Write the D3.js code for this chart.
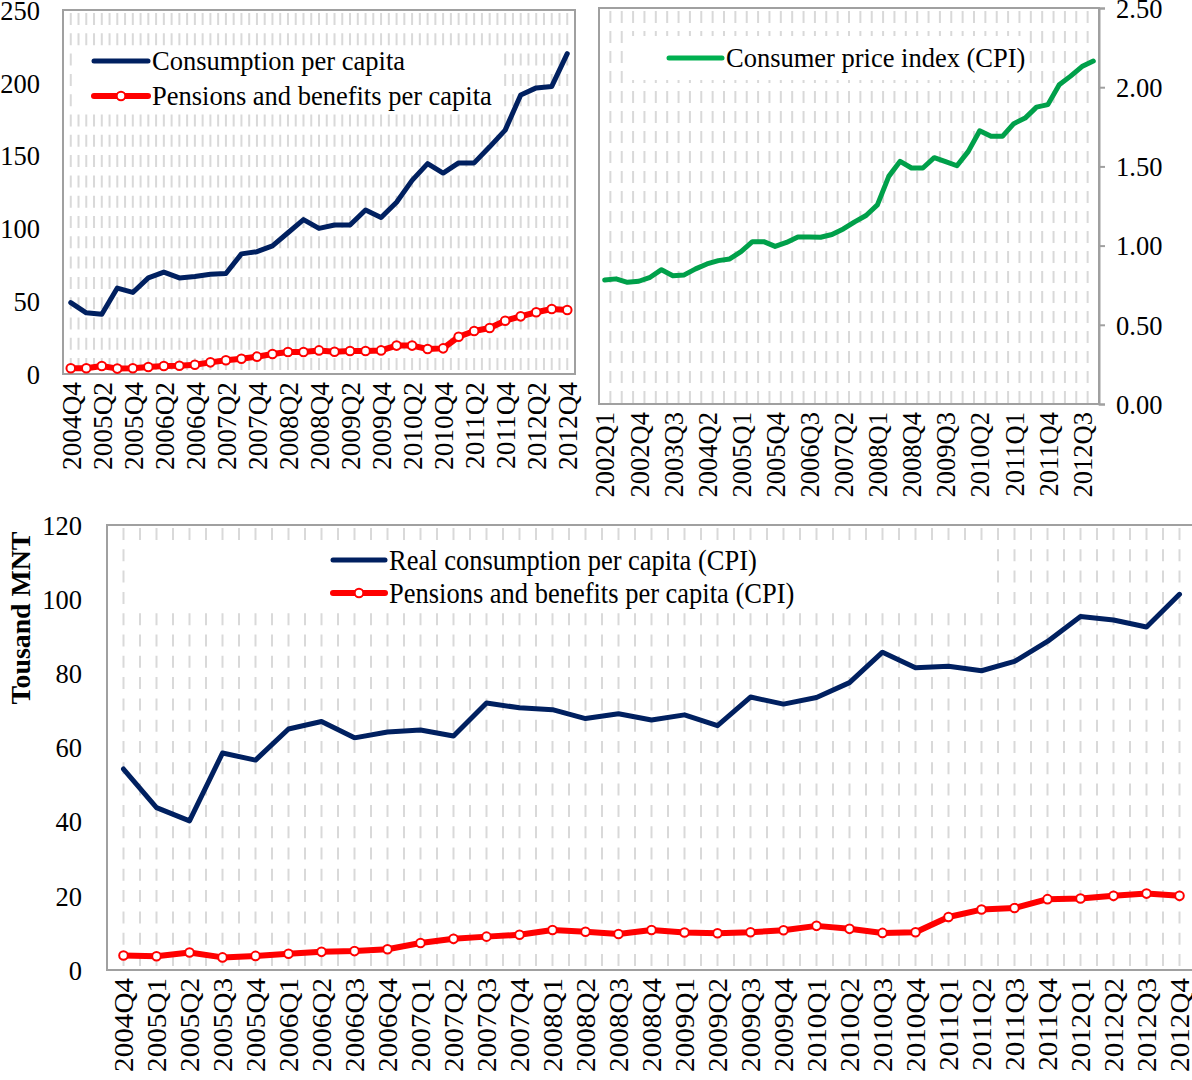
<!DOCTYPE html>
<html>
<head>
<meta charset="utf-8">
<script src="https://cdn.jsdelivr.net/npm/d3@7"></script>
<style>
  body { margin: 0; background: #fff; }
  svg text { font-family: "Liberation Serif", "Times New Roman", serif; fill: #000; }
</style>
</head>
<body>
<svg id="chart" width="1192" height="1080"></svg>
<script>
// nominal panel (top left)
const nominalQuarters = ["2004Q4","2005Q1","2005Q2","2005Q3","2005Q4","2006Q1","2006Q2","2006Q3","2006Q4",
  "2007Q1","2007Q2","2007Q3","2007Q4","2008Q1","2008Q2","2008Q3","2008Q4","2009Q1","2009Q2","2009Q3","2009Q4",
  "2010Q1","2010Q2","2010Q3","2010Q4","2011Q1","2011Q2","2011Q3","2011Q4","2012Q1","2012Q2","2012Q3","2012Q4"];
const nominalTickLabels = ["2004Q4","2005Q2","2005Q4","2006Q2","2006Q4","2007Q2","2007Q4","2008Q2","2008Q4",
  "2009Q2","2009Q4","2010Q2","2010Q4","2011Q2","2011Q4","2012Q2","2012Q4"];
const consumption = [49, 42, 41, 59, 56, 66, 70, 66, 67, 68.5, 69, 82.5, 84, 88, 97, 106, 100, 102.3, 102.3,
  112.6, 107.5, 118, 133, 144.5, 138, 145, 145, 156, 167.5, 191.6, 196.5, 197.5, 220];
const pensions = [3.9, 3.9, 5.5, 3.7, 3.9, 4.8, 5.5, 5.7, 6.4, 8, 9.4, 10.5, 11.9, 13.7, 15.1, 15.1, 16.2, 15.3,
  15.8, 15.8, 16.2, 19.5, 19.5, 17.2, 17.6, 25.6, 29.5, 31.6, 36.6, 39.6, 42.4, 44.6, 44];
const nominalYTicks = [0, 50, 100, 150, 200, 250];

// CPI panel (top right)
const cpiQuarters = ["2002Q1","2002Q2","2002Q3","2002Q4","2003Q1","2003Q2","2003Q3","2003Q4",
  "2004Q1","2004Q2","2004Q3","2004Q4","2005Q1","2005Q2","2005Q3","2005Q4","2006Q1","2006Q2","2006Q3","2006Q4",
  "2007Q1","2007Q2","2007Q3","2007Q4","2008Q1","2008Q2","2008Q3","2008Q4","2009Q1","2009Q2","2009Q3","2009Q4",
  "2010Q1","2010Q2","2010Q3","2010Q4","2011Q1","2011Q2","2011Q3","2011Q4","2012Q1","2012Q2","2012Q3","2012Q4"];
const cpiTickLabels = ["2002Q1","2002Q4","2003Q3","2004Q2","2005Q1","2005Q4","2006Q3","2007Q2","2008Q1",
  "2008Q4","2009Q3","2010Q2","2011Q1","2011Q4","2012Q3"];
const cpi = [0.783, 0.79, 0.768, 0.775, 0.80, 0.848, 0.81, 0.815, 0.853, 0.884, 0.905, 0.916, 0.962, 1.025,
  1.025, 0.995, 1.02, 1.055, 1.055, 1.053, 1.07, 1.105, 1.15, 1.19, 1.257, 1.437, 1.532, 1.49, 1.49, 1.555,
  1.53, 1.504, 1.595, 1.725, 1.69, 1.69, 1.77, 1.805, 1.874, 1.89, 2.015, 2.07, 2.13, 2.165];
const cpiYTicks = [0, 0.5, 1, 1.5, 2, 2.5];

// real panel (bottom)
const realQuarters = nominalQuarters;
const realConsumption = [54.2, 43.8, 40.2, 58.5, 56.6, 65, 67, 62.6, 64.2, 64.7, 63.1, 72, 70.7, 70.2, 67.8,
  69.1, 67.4, 68.8, 65.9, 73.6, 71.7, 73.5, 77.5, 85.7, 81.5, 81.9, 80.7, 83.2, 88.6, 95.3, 94.4, 92.5, 101.3];
const realPensions = [3.9, 3.7, 4.7, 3.4, 3.8, 4.4, 4.9, 5.1, 5.6, 7.3, 8.4, 9.0, 9.5, 10.8, 10.3, 9.7, 10.8,
  10.1, 9.9, 10.2, 10.7, 11.9, 11.1, 10.0, 10.2, 14.3, 16.3, 16.7, 19.1, 19.3, 20.0, 20.6, 20.0];
const realYTicks = [0, 20, 40, 60, 80, 100, 120];

const NAVY = "#002060", RED = "#ff0000", GREEN = "#00a04a", GRID = "#d9d9d9", FRAME = "#a0a0a0";
const FS = 26.5;

const svg = d3.select("#chart");

function panel(opts) {
  const { left, right, top, bottom, cats, ymax } = opts;
  const x = d3.scalePoint().domain(cats).range([left, right]).padding(0.5);
  const y = d3.scaleLinear().domain([0, ymax]).range([bottom, top]);
  const g = svg.append("g");

  // dashed vertical gridlines
  const step = x.step();
  let gx = [];
  if (opts.halfGrid) {
    cats.forEach(c => { gx.push(x(c)); gx.push(x(c) + step / 2); });
  } else {
    cats.slice(0, -1).forEach(c => gx.push(x(c) + step / 2));
  }
  gx = gx.filter(v => v > left + 2 && v < right - 2);
  g.append("g").selectAll("line").data(gx).join("line")
    .attr("x1", d => d).attr("x2", d => d)
    .attr("y1", top + 3).attr("y2", bottom)
    .attr("stroke", GRID).attr("stroke-width", 2)
    .attr("stroke-dasharray", opts.dash);

  // legend background hides the gridlines
  const lb = opts.legendBox;
  g.append("rect").attr("x", lb[0]).attr("y", lb[1]).attr("width", lb[2] - lb[0]).attr("height", lb[3] - lb[1])
    .attr("fill", "#fff");

  // frame
  g.append("rect").attr("x", left).attr("y", top).attr("width", right - left).attr("height", bottom - top)
    .attr("fill", "none").attr("stroke", FRAME).attr("stroke-width", 2);

  // x axis, labels read bottom to top
  g.append("g").attr("transform", `translate(0,${bottom})`)
    .call(d3.axisBottom(x).tickValues(opts.xticks).tickSize(0))
    .call(a => a.select(".domain").remove())
    .selectAll("text")
    .attr("transform", `rotate(-90) scale(${opts.labelStretch},1)`)
    .attr("text-anchor", "end")
    .attr("x", -8 / opts.labelStretch).attr("y", 0).attr("dy", "0.35em")
    .style("font-size", FS + "px");

  // y axis
  if (opts.rightAxis) {
    g.append("g").attr("transform", `translate(${right},0)`)
      .call(d3.axisRight(y).tickValues(opts.yticks).tickSize(6).tickPadding(11).tickFormat(d3.format(".2f")))
      .call(a => a.select(".domain").attr("stroke", FRAME).attr("stroke-width", 2))
      .call(a => a.selectAll(".tick line").attr("stroke", FRAME).attr("stroke-width", 2))
      .selectAll("text").attr("dy", "0.35em").style("font-size", FS + "px");
  } else {
    g.append("g").attr("transform", `translate(${left},0)`)
      .call(d3.axisLeft(y).tickValues(opts.yticks).tickSize(0).tickPadding(opts.ypad))
      .call(a => a.select(".domain").remove())
      .selectAll("text").attr("dy", "0.35em").style("font-size", FS + "px");
  }

  g.selectAll(".tick text").attr("fill", "#000");
  return { g, x, y };
}

function drawSeries(p, cats, values, s) {
  const line = d3.line().x((d, i) => p.x(cats[i])).y(d => p.y(d));
  p.g.append("path").datum(values)
    .attr("fill", "none").attr("stroke", s.color).attr("stroke-width", s.width)
    .attr("stroke-linejoin", "round").attr("stroke-linecap", "round")
    .attr("d", line);
  if (s.markers) {
    p.g.append("g").selectAll("circle").data(values).join("circle")
      .attr("cx", (d, i) => p.x(cats[i])).attr("cy", d => p.y(d))
      .attr("r", 4.3).attr("fill", "#fff").attr("stroke", s.color).attr("stroke-width", 2);
  }
}

function legendItem(g, x0, x1, yy, s, label, stretch) {
  g.append("line").attr("x1", x0).attr("x2", x1).attr("y1", yy).attr("y2", yy)
    .attr("stroke", s.legendColor || s.color).attr("stroke-width", s.width).attr("stroke-linecap", "round");
  if (s.markers) {
    g.append("circle").attr("cx", (x0 + x1) / 2).attr("cy", yy).attr("r", 4.3)
      .attr("fill", "#fff").attr("stroke", s.color).attr("stroke-width", 2);
  }
  g.append("text").attr("transform", `translate(${x1 + 4},${yy}) scale(1,${stretch || 1})`)
    .attr("dy", "0.33em")
    .style("font-size", FS + "px").text(label);
}

const navyStyle = { color: NAVY, width: 5 };
const redStyle = { color: RED, width: 6, markers: true };
const greenStyle = { color: GREEN, legendColor: "#00b050", width: 5 };

// top left
const p1 = panel({ left: 63, right: 575, top: 10, bottom: 374, cats: nominalQuarters, ymax: 250,
  xticks: nominalTickLabels, yticks: nominalYTicks, ypad: 23, halfGrid: true, dash: "12 8.3",
  legendBox: [76, 46, 502, 113], labelStretch: 1.03 });
drawSeries(p1, nominalQuarters, consumption, navyStyle);
drawSeries(p1, nominalQuarters, pensions, redStyle);
legendItem(p1.g, 94, 148, 61, navyStyle, "Consumption per capita", 1.05);
legendItem(p1.g, 94, 148, 96, redStyle, "Pensions and benefits per capita", 1.05);

// top right
const p2 = panel({ left: 599, right: 1099, top: 8, bottom: 404, cats: cpiQuarters, ymax: 2.5,
  xticks: cpiTickLabels, yticks: cpiYTicks, rightAxis: true, halfGrid: false, dash: "12 8",
  legendBox: [627, 36, 1027, 80], labelStretch: 1.0 });
drawSeries(p2, cpiQuarters, cpi, greenStyle);
legendItem(p2.g, 669, 722, 58, greenStyle, "Consumer price index (CPI)", 1.05);

// bottom
const p3 = panel({ left: 107, right: 1196, top: 525, bottom: 970, cats: realQuarters, ymax: 120,
  xticks: realQuarters, yticks: realYTicks, ypad: 25, halfGrid: true, dash: "12 9.3",
  legendBox: [126, 543, 996, 608], labelStretch: 1.1 });
drawSeries(p3, realQuarters, realConsumption, navyStyle);
drawSeries(p3, realQuarters, realPensions, redStyle);
legendItem(p3.g, 333, 385, 560, navyStyle, "Real consumption per capita (CPI)", 1.1);
legendItem(p3.g, 333, 385, 593, redStyle, "Pensions and benefits per capita (CPI)", 1.1);

svg.append("text")
  .attr("transform", "translate(21,618) rotate(-90) scale(1.05,1)")
  .attr("text-anchor", "middle").attr("dy", "0.35em")
  .style("font-size", FS + "px").style("font-weight", "bold")
  .text("Tousand MNT");
</script>
</body>
</html>
